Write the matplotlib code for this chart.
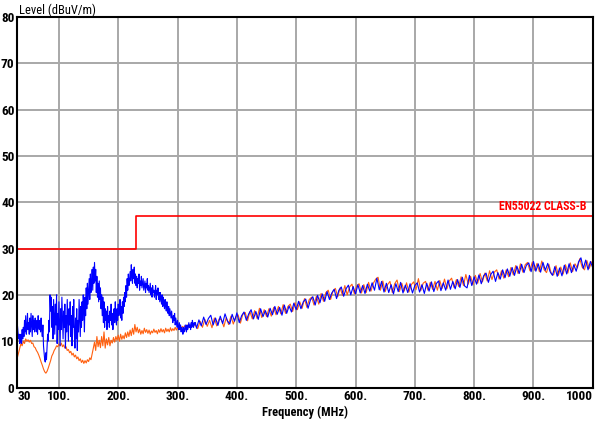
import numpy as np
import matplotlib
matplotlib.use('Agg')
import matplotlib.pyplot as plt

# peak trace: 30..330 MHz every 1 MHz, 332..1000 MHz every 4 MHz
peak_freq_low = np.arange(30, 331, 1)
peak_freq_high = np.arange(332, 1001, 4)
# average trace: 30..330 MHz every 2 MHz, 334..998 MHz every 4 MHz
avg_freq_low = np.arange(30, 331, 2)
avg_freq_high = np.arange(334, 1001, 4)

peak_low = [
    13.5, 12.0, 10.5, 11.5, 9.5, 10.0, 11.5, 9.5, 12.5, 10.5,
    13.0, 11.0, 14.5, 12.0, 15.5, 11.5, 13.0, 16.0, 12.5, 14.0,
    11.5, 15.0, 12.0, 16.0, 13.5, 11.0, 15.5, 12.5, 14.5, 12.0,
    15.0, 13.0, 12.0, 14.5, 11.5, 15.5, 13.0, 12.5, 14.5, 12.0,
    15.0, 12.5, 11.0, 13.5, 9.0, 7.5, 6.0, 5.5, 7.5, 6.0,
    9.0, 11.5, 10.0, 14.5, 12.0, 20.0, 16.5, 19.5, 13.0, 17.5,
    10.5, 19.0, 15.0, 11.5, 18.0, 13.5, 20.0, 9.5, 16.0, 12.5,
    18.5, 14.0, 9.0, 17.0, 12.5, 19.5, 15.0, 10.5, 16.5, 13.0,
    18.0, 8.5, 15.5, 12.0, 19.0, 14.5, 10.0, 17.0, 13.5, 18.5,
    11.0, 15.5, 9.0, 17.5, 13.0, 19.0, 12.0, 8.5, 15.0, 10.5,
    17.0, 8.0, 14.5, 12.0, 19.0, 15.0, 11.0, 17.5, 13.0, 18.5,
    14.5, 20.0, 16.5, 12.0, 19.5, 15.5, 21.5, 17.0, 22.5, 18.0,
    21.0, 23.5, 19.0, 24.5, 20.5, 22.0, 25.5, 21.0, 26.0, 22.5,
    27.0, 23.0, 25.5, 20.5, 24.0, 19.5, 22.5, 18.5, 23.0, 19.0,
    21.5, 17.0, 20.0, 15.5, 19.5, 14.0, 18.5, 13.0, 17.0, 14.5,
    16.5, 12.5, 17.5, 14.0, 15.5, 13.0, 16.5, 14.5, 18.0, 13.5,
    16.0, 12.5, 15.5, 17.0, 14.0, 18.5, 15.0, 13.5, 17.0, 14.5,
    18.0, 15.5, 16.5, 19.0, 15.0, 17.5, 14.5, 18.5, 16.0, 19.5,
    17.5, 20.5, 18.5, 22.0, 19.5, 23.5, 21.0, 24.5, 22.0, 23.0,
    25.0, 23.0, 26.5, 24.0, 22.5, 25.5, 23.5, 26.0, 22.5, 24.5,
    22.0, 24.0, 21.5, 23.5, 22.5, 24.5, 21.0, 23.0, 22.0, 24.0,
    21.5, 22.5, 23.5, 21.0, 22.0, 23.0, 20.5, 22.5, 21.5, 23.5,
    21.0, 22.0, 20.5, 21.5, 22.5, 20.0, 21.5, 19.5, 22.0, 20.5,
    21.0, 19.5, 20.5, 22.0, 19.0, 21.0, 20.0, 21.5, 19.0, 20.5,
    18.5, 20.5, 19.0, 18.0, 20.0, 17.5, 19.5, 18.0, 17.0, 19.0,
    17.5, 16.5, 18.5, 17.0, 16.0, 17.5, 15.5, 17.0, 16.0, 15.0,
    16.5, 15.0, 14.0, 15.5, 14.5, 16.0, 13.5, 15.0, 14.0, 13.0,
    14.5, 13.0, 12.5, 14.0, 12.5, 13.5, 12.0, 13.0, 12.5, 11.5,
    13.0, 12.0, 12.5, 13.5, 12.5, 12.0, 13.5, 12.5, 13.0, 14.0,
    13.0, 13.5, 12.5, 14.0, 13.0, 14.5, 13.5, 13.0, 14.0, 13.5,
    14.0,
]
peak_high = [
    12.8, 14.6, 13.3, 15.2, 13.6, 14.9, 15.6, 13.5, 15.0, 13.4,
    15.4, 13.8, 15.9, 14.4, 13.7, 15.8, 14.3, 16.1, 14.0, 15.5,
    16.3, 14.5, 15.9, 16.8, 14.8, 16.4, 14.7, 17.0, 15.3, 16.6,
    15.2, 17.1, 15.7, 17.5, 15.8, 17.3, 15.6, 17.8, 16.0, 17.6,
    16.3, 18.2, 16.8, 18.6, 17.0, 18.5, 19.1, 17.1, 18.9, 19.6,
    17.8, 19.9, 18.3, 20.2, 18.6, 20.7, 19.0, 20.4, 21.2, 19.2,
    21.0, 21.7, 19.7, 21.3, 22.1, 20.0, 21.8, 20.2, 22.2, 20.4,
    22.0, 20.3, 22.3, 20.8, 22.6, 21.0, 23.6, 21.1, 22.9, 20.6,
    22.5, 20.5, 22.2, 20.2, 22.4, 20.7, 22.7, 20.4, 22.1, 20.5,
    22.4, 20.4, 22.0, 22.6, 20.6, 22.2, 20.3, 22.5, 20.8, 22.8,
    20.7, 22.4, 23.0, 20.9, 22.6, 21.0, 23.2, 21.2, 22.9, 21.3,
    23.3, 21.6, 23.8, 21.9, 21.5, 24.2, 22.0, 23.9, 22.3, 24.3,
    22.4, 24.1, 24.7, 22.7, 24.4, 25.1, 22.9, 24.8, 23.4, 25.4,
    23.7, 25.6, 24.0, 25.9, 24.2, 26.2, 24.6, 26.6, 24.8, 26.4,
    26.9, 25.0, 27.2, 25.1, 26.7, 24.9, 27.0, 25.3, 26.8, 25.0,
    24.2, 26.1, 24.0, 25.8, 24.1, 26.4, 24.5, 26.7, 24.8, 26.5,
    25.1, 27.1, 28.0, 25.7, 27.5, 25.4, 27.2, 25.8,
]

avg_low = [
    6.5, 7.5, 8.5, 9.5, 9.0, 10.0, 9.5, 10.5, 10.0, 10.3,
    9.8, 10.2, 9.5, 9.6, 8.8, 8.6, 8.0, 7.6, 7.0, 6.3,
    5.5, 4.8, 4.0, 3.4, 3.1, 3.5, 4.2, 5.0, 5.8, 6.8,
    7.3, 8.0, 8.4, 9.0, 8.8, 9.4, 9.0, 9.6, 8.8, 9.2,
    8.5, 8.8, 8.0, 8.2, 7.5, 7.8, 7.0, 7.4, 6.6, 7.0,
    6.2, 6.6, 5.8, 6.2, 5.4, 5.9, 5.2, 5.8, 5.3, 6.0,
    5.6, 6.4, 6.0, 7.2, 8.5, 9.8, 8.0, 11.0, 8.8, 10.2,
    8.6, 11.0, 9.0, 12.0, 8.5, 10.5, 9.2, 10.8, 9.0, 10.2,
    9.6, 10.8, 9.8, 11.0, 10.2, 11.3, 10.0, 11.5, 10.4, 11.2,
    10.5, 11.8, 10.8, 12.0, 11.0, 12.4, 11.2, 12.8, 11.5, 13.6,
    12.0, 13.0, 11.8, 12.6, 11.5, 12.3, 11.6, 12.8, 11.9, 12.5,
    11.7, 12.4, 11.5, 12.2, 11.8, 12.6, 11.9, 12.3, 11.6, 12.5,
    11.9, 12.7, 12.0, 12.5, 11.8, 12.8, 12.1, 12.6, 12.0, 12.9,
    12.2, 12.7, 12.3, 13.0, 12.4, 12.9, 12.5, 13.1, 12.6, 13.2,
    12.8, 13.3, 12.9, 13.5, 13.0, 13.4, 13.1, 13.7, 13.2, 13.8,
    13.4,
]
avg_high = [
    12.7, 14.3, 13.0, 14.7, 13.2, 14.5, 12.9, 15.0, 13.3, 14.8,
    14.6, 13.1, 15.1, 13.6, 15.4, 13.7, 15.2, 15.7, 13.9, 15.8,
    16.2, 14.4, 16.4, 14.8, 16.6, 14.9, 17.1, 15.1, 16.8, 15.3,
    17.0, 15.4, 17.3, 15.7, 17.5, 15.9, 17.9, 16.0, 17.5, 18.0,
    16.4, 18.3, 16.8, 18.5, 17.1, 19.2, 17.3, 19.0, 19.5, 17.8,
    19.7, 18.0, 20.3, 18.6, 20.5, 21.0, 19.0, 20.8, 21.4, 19.6,
    21.5, 19.9, 22.0, 20.0, 21.7, 22.3, 20.2, 21.9, 22.4, 20.4,
    22.2, 20.5, 22.7, 20.8, 22.5, 23.4, 23.8, 21.0, 23.0, 20.7,
    22.2, 22.9, 20.5, 22.4, 23.2, 20.7, 22.5, 20.8, 22.6, 20.6,
    22.2, 22.8, 21.1, 23.5, 20.9, 22.5, 22.9, 21.0, 22.7, 21.2,
    22.9, 21.0, 23.1, 21.4, 23.4, 21.3, 23.0, 23.6, 21.6, 23.3,
    21.8, 23.9, 22.0, 24.4, 22.3, 24.0, 22.2, 24.2, 22.5, 24.6,
    22.8, 24.7, 23.0, 25.2, 23.3, 24.9, 25.4, 23.4, 25.2, 23.6,
    25.4, 23.9, 25.9, 24.3, 26.3, 24.6, 26.7, 24.9, 26.5, 27.0,
    25.2, 27.1, 25.3, 26.8, 25.0, 27.3, 25.4, 24.8, 26.6, 24.6,
    24.3, 26.3, 24.2, 26.0, 24.5, 26.5, 24.7, 26.9, 25.0, 26.7,
    25.8, 27.8, 26.0, 25.4, 27.4, 25.7, 27.1,
]

# EN55022 class B radiated limit
limit_freq = [30, 230, 230, 1000]
limit_level = [30, 30, 37, 37]

xticks = [30, 100, 200, 300, 400, 500, 600, 700, 800, 900, 1000]
xtick_labels = ['30', '100.', '200.', '300.', '400.', '500.', '600.', '700.', '800.', '900.', '1000']
yticks = [0, 10, 20, 30, 40, 50, 60, 70, 80]

peak_freq = np.concatenate([peak_freq_low, peak_freq_high])
avg_freq = np.concatenate([avg_freq_low, avg_freq_high])
peak = np.array(peak_low + peak_high)
avg = np.array(avg_low + avg_high)

plt.rcParams['font.family'] = ['Roboto Condensed', 'Liberation Sans Narrow',
                               'Liberation Sans', 'DejaVu Sans']

fig = plt.figure(figsize=(6.0, 4.28), dpi=100)
ax = fig.add_axes([0.029, 0.0946, 0.959, 0.866])

ax.plot(avg_freq, avg, color='#ff6010', linewidth=0.8)
ax.plot(peak_freq, peak, color='#0000ff', linewidth=0.8)
ax.plot(limit_freq, limit_level, color='#ff0000', linewidth=1.2)
ax.text(990, 37.6, 'EN55022 CLASS-B', color='#ff0000', fontsize=8.5,
        fontweight='bold', ha='right', va='bottom')

ax.set_xlim(30, 1000)
ax.set_ylim(0, 80)
ax.set_xticks(xticks)
ax.set_xticklabels(xtick_labels, fontsize=9.5, fontweight='bold')
ax.set_yticks(yticks)
ax.set_yticklabels([str(v) for v in yticks], fontsize=9.5, fontweight='bold')
labels = ax.get_xticklabels()
labels[0].set_ha('left')
labels[-1].set_ha('right')
ax.tick_params(length=0, pad=2)
ax.grid(True, color='#a8a8a8', linewidth=1.4)
ax.set_axisbelow(True)
for s in ax.spines.values():
    s.set_linewidth(1.5)
    s.set_color('black')

ax.set_xlabel('Frequency (MHz)', fontsize=9, fontweight='bold', labelpad=2)
fig.text(0.031, 0.975, 'Level (dBuV/m)', fontsize=9, ha='left', va='center')

fig.savefig('out.png', dpi=100)
